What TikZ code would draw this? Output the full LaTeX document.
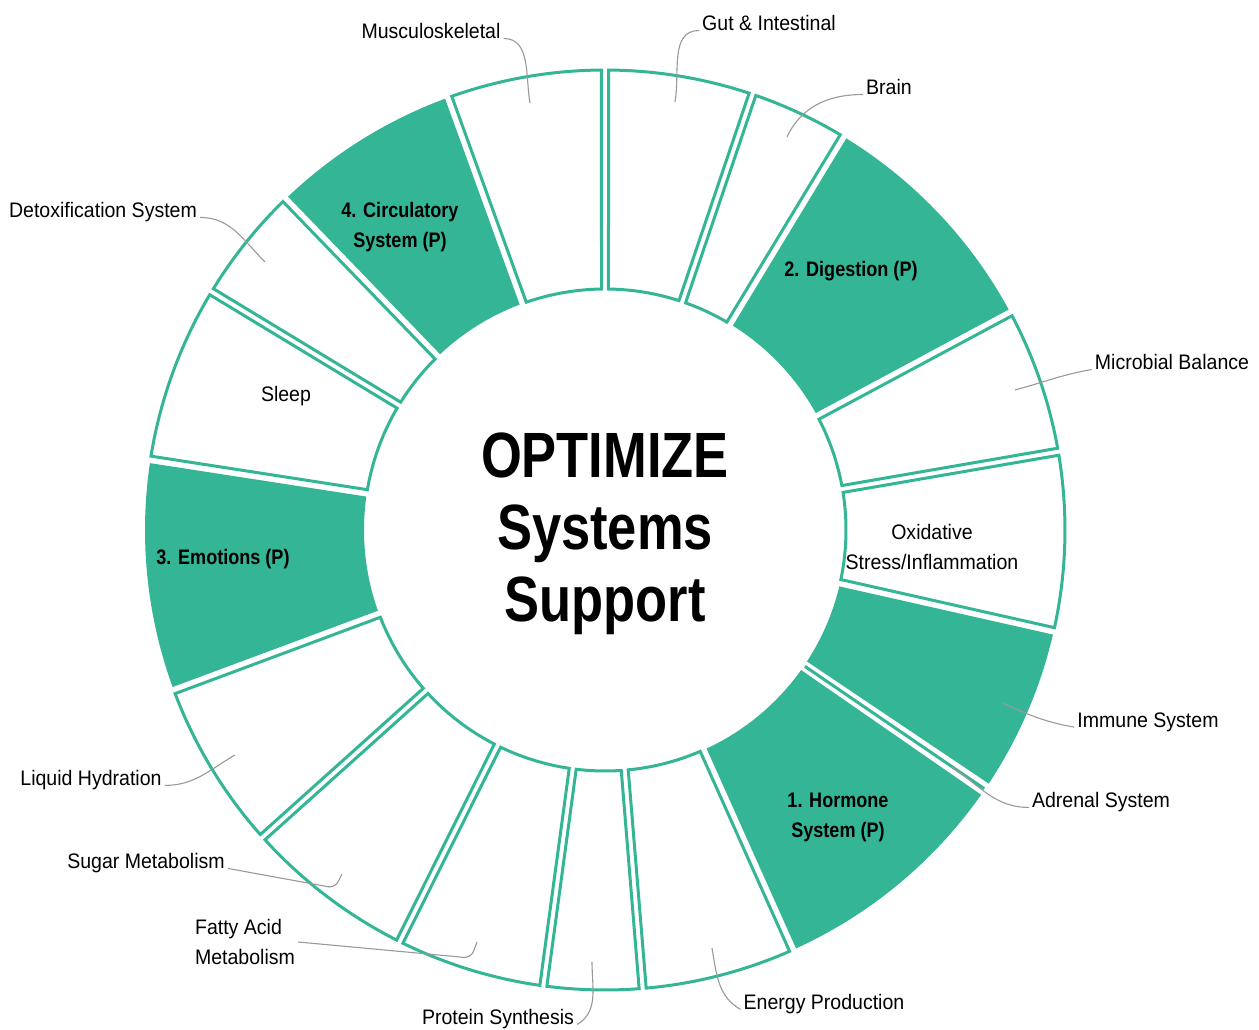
\documentclass[tikz,border=0pt]{standalone}
\usepackage{fontspec}
\setmainfont[FakeStretch=0.93]{Liberation Sans}
\newfontfamily\titlefont[FakeStretch=0.82]{Liberation Sans}
\newfontfamily\segfont[FakeStretch=0.86]{Liberation Sans}
\definecolor{ringgreen}{RGB}{52,182,150}

% one ring piece: [style]{start angle}{end angle}
\newcommand{\ringseg}[3][whiteseg]{%
  \path[#1] ({#2+0.83}:241pt) arc[start angle={#2+0.83}, end angle={#3-0.83}, radius=241pt]
    -- ({#3-0.44}:460pt) arc[start angle={#3-0.44}, end angle={#2+0.44}, radius=460pt] -- cycle;}

\begin{document}
\begin{tikzpicture}[x=1pt, y=1pt,
    whiteseg/.style={draw=ringgreen, line width=3pt, fill=white},
    greenseg/.style={fill=ringgreen},
    leader/.style={draw=gray!80, line width=1.1pt},
    lab/.style={font=\fontsize{21}{30}\selectfont, align=center, inner sep=3pt},
    boldlab/.style={font=\segfont\bfseries\fontsize{21}{30}\selectfont, align=center},
    title/.style={font=\titlefont\bfseries\fontsize{64}{72}\selectfont, align=center}]
		\useasboundingbox (-605,-500) rectangle (654,530);

		% ring
		\ringseg{71.3}{90}
		\ringseg{58.8}{71.3}
		\ringseg[greenseg]{28.2}{58.8}
		\ringseg{9.8}{28.2}
		\ringseg{-12.7}{9.8}
		\ringseg[greenseg]{-33.9}{-12.7}
		\ringseg[greenseg]{-65.9}{-34.7}
		\draw[ringgreen, line width=3pt] (-34.3:242pt) -- (-34.3:459pt);
		\ringseg{-85.3}{-65.9}
		\ringseg{-97.7}{-85.3}
		\ringseg{-116.5}{-97.7}
		\ringseg{-138.1}{-116.5}
		\ringseg{-159.6}{-138.1}
		\ringseg[greenseg]{171.2}{200.4}
		\ringseg{148.8}{171.2}
		\ringseg{134}{148.8}
		\ringseg[greenseg]{109.9}{134}
		\ringseg{90}{109.9}

		\node[title] (title) at (0,-4) {OPTIMIZE\\Systems\\Support};

		% labels inside the ring
		\node[lab] (sleep) at (-319,134) {Sleep};
		\node[boldlab] (emo) at (-382,-29) {3. Emotions (P)};
		\node[boldlab] (circ) at (-205,303) {4. Circulatory\\System (P)};
		\node[boldlab] (dig) at (246,259) {2. Digestion (P)};
		\node[lab] (oxi) at (327,-17) {Oxidative\\Stress/Inflammation};
		\node[boldlab] (hor) at (233,-287) {1. Hormone\\System (P)};

		% labels outside the ring
		\node[lab] (mus) at (-174,499) {Musculoskeletal};
		\node[lab] (gut) at (164,507) {Gut \& Intestinal};
		\node[lab] (brain) at (284,443) {Brain};
		\node[lab] (mic) at (567,168) {Microbial Balance};
		\node[lab] (imm) at (543,-192) {Immune System};
		\node[lab] (adr) at (496,-272) {Adrenal System};
		\node[lab] (ene) at (219,-474) {Energy Production};
		\node[lab] (pro) at (-107,-489) {Protein Synthesis};
		\node[lab, align=left] (fat) at (-360,-412) {Fatty Acid\\Metabolism};
		\node[lab] (sug) at (-459,-333) {Sugar Metabolism};
		\node[lab] (liq) at (-514,-250) {Liquid Hydration};
		\node[lab] (det) at (-502,318) {Detoxification System};

		\coordinate (musend) at (-75,427);
		\coordinate (gutend) at (70,428);
		\coordinate (brainend) at (182,393);
		\coordinate (micend) at (410,140);
		\coordinate (immend) at (398,-173);
		\coordinate (adrend) at (347,-237);
		\coordinate (eneend) at (107,-418);
		\coordinate (proend) at (-13,-432);
		\coordinate (fatend) at (-128,-412);
		\coordinate (sugend) at (-263,-344);
		\coordinate (liqend) at (-370,-225);
		\coordinate (detend) at (-340,268);

		\path[leader]
		(mus.base east) edge [out=0, in=100] (musend)
		(gut.base west) edge [out=180, in=80] (gutend)
		(brain.base west) edge [out=180, in=65] (brainend)
		(mic.base west) edge [out=190, in=15] (micend)
		(imm.base west) edge [out=170, in=-25] (immend)
		(adr.base west) edge [out=180, in=-34] (adrend)
		(ene.base west) edge [out=150, in=-80] (eneend)
		(pro.base east) edge [out=30, in=-90] (proend)
		(liq.base east) edge [out=0, in=-150] (liqend)
		(det.base east) edge [out=0, in=135] (detend);
		\draw[leader, rounded corners=7pt] (fat.east) -- ([xshift=-6pt, yshift=-16pt]fatend) -- (fatend);
		\draw[leader, rounded corners=7pt] (sug.base east) -- ([xshift=-7pt, yshift=-14pt]sugend) -- (sugend);
	\end{tikzpicture}
\end{document}
